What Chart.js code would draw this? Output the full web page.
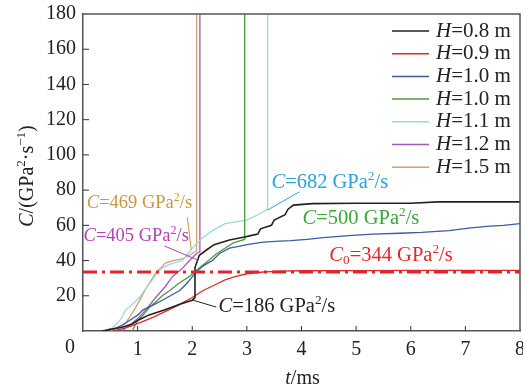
<!DOCTYPE html>
<html>
<head>
<meta charset="utf-8">
<script src="https://cdn.jsdelivr.net/npm/chart.js@4"></script>
<style>
  html, body { margin: 0; padding: 0; background: #fff; }
  #wrap { width: 523px; height: 390px; }
</style>
</head>
<body>
<div id="wrap"><canvas id="c"></canvas></div>
<script>
"use strict";
// H = 0.8 m
const t08 = [0.35, 0.5, 0.7, 0.9, 1.0, 1.2, 1.5, 1.8, 2.0, 2.05, 2.05, 2.13, 2.26, 2.4, 2.68, 2.96, 3.05, 3.2, 3.25, 3.45, 3.5, 3.7, 3.75, 3.85, 4.2, 5.0, 6.0, 6.5, 7.0, 8.0];
const c08 = [0, 1, 2, 4, 6, 9, 12, 15.5, 17.5, 19, 36, 43, 46, 49, 51.7, 53.4, 54, 55, 58, 60, 63, 66, 69, 71.5, 72.3, 72.5, 72.5, 73.3, 73.3, 73.3];
// H = 0.9 m
const t09 = [0.55, 0.7, 0.9, 1.1, 1.3, 1.5, 1.7, 2.0, 2.2, 2.4, 2.6, 2.8, 3.0, 3.3, 3.6, 4.0, 5.0, 6.0, 7.0, 8.0];
const c09 = [0, 1, 3, 5.5, 8, 11, 14, 19, 23, 26, 29, 31, 32.5, 33.5, 34, 34.2, 34.3, 34.4, 34.4, 34.4];
// H = 1.0 m (blue)
const t10a = [0.4, 0.55, 0.7, 0.85, 1.0, 1.1, 1.3, 1.46, 1.6, 1.77, 1.9, 2.06, 2.2, 2.37, 2.5, 2.68, 2.85, 3.0, 3.3, 3.6, 3.8, 4.1, 4.4, 4.8, 5.3, 5.8, 6.2, 6.7, 7.1, 7.45, 7.7, 8.0];
const c10a = [0, 1, 3, 6, 9, 12, 15, 17.6, 20, 23, 27, 33, 37, 40, 44, 47, 48, 49, 50.5, 51, 51.3, 52, 53, 54, 55, 55.5, 56, 57, 58.5, 59.6, 60, 61];
// H = 1.0 m (green)
const t10b = [0.9, 0.95, 1.0, 1.1, 1.22, 1.35, 1.45, 1.59, 1.75, 1.95, 2.1, 2.3, 2.45, 2.6, 2.75, 2.9, 2.96, 2.96];
const c10b = [0, 3, 6, 9, 13.6, 17, 20, 23, 27, 31, 35, 40, 44, 47, 50, 51.5, 52, 185];
// H = 1.1 m
const t11 = [0.4, 0.55, 0.7, 0.78, 0.9, 1.03, 1.15, 1.27, 1.36, 1.46, 1.6, 1.82, 2.0, 2.19, 2.37, 2.6, 2.8, 3.0, 3.2, 3.35, 3.38, 3.38];
const c11 = [0, 2, 7, 12, 15, 19, 24, 29, 33, 36, 38, 40, 47, 53, 57, 61, 62, 63, 66, 68.7, 69, 185];
// H = 1.2 m
const t12 = [0.7, 0.85, 1.03, 1.15, 1.33, 1.5, 1.64, 1.8, 1.95, 2.08, 2.14, 2.14];
const c12 = [0, 3, 8, 12, 19, 25, 31, 35, 40, 44, 45, 185];
// H = 1.5 m
const t15 = [0.5, 0.65, 0.78, 0.9, 1.03, 1.15, 1.33, 1.51, 1.65, 1.82, 1.95, 2.05, 2.08, 2.08];
const c15 = [0, 2, 4.5, 10, 17, 24, 33, 38.6, 40, 41, 43, 45, 45.5, 185];
// threshold C0
const tC0 = [0, 8];
const cC0 = [33.5, 33.5];

const seriesLabels = ["0.8", "0.9", "1.0", "1.0", "1.1", "1.2", "1.5"];
const seriesColors = ["#222222", "#e8262a", "#3b5ba5", "#4c9a3c", "#9ad9dc", "#a15bb8", "#d4a070"];

function pts(t, c) {
  return t.map((v, i) => ({x: v, y: c[i]}));
}

const FONT = "'Liberation Serif', 'DejaVu Serif', serif";

// draw text made of parts: {t, i (italic), sup, sub}
function richWidth(ctx, parts, size) {
  let w = 0;
  parts.forEach(p => {
    const s = (p.sup || p.sub) ? size * 0.65 : size;
    ctx.font = (p.i ? "italic " : "") + s + "px " + FONT;
    w += ctx.measureText(p.t).width;
  });
  return w;
}
function drawRich(ctx, parts, x, y, size, color) {
  ctx.save();
  ctx.fillStyle = color;
  ctx.textBaseline = "middle";
  ctx.textAlign = "left";
  let cx = x;
  parts.forEach(p => {
    const s = (p.sup || p.sub) ? size * 0.65 : size;
    ctx.font = (p.i ? "italic " : "") + s + "px " + FONT;
    let dy = 0;
    if (p.sup) dy = -size * 0.3;
    if (p.sub) dy = size * 0.25;
    ctx.fillText(p.t, cx, y + dy);
    cx += ctx.measureText(p.t).width;
  });
  ctx.restore();
}
function cLabel(v) {
  return [{t: "C", i: true}, {t: "=" + v + " GPa"}, {t: "2", sup: true}, {t: "/s"}];
}

// annotation texts: left edge and middle, in data units
const notes = [
  {parts: cLabel(469), x: 0.07, y: 72.5, size: 18.5, color: "#c9973f"},
  {parts: cLabel(405), x: 0.01, y: 53.8, size: 18.5, color: "#b540b5"},
  {parts: cLabel(682), x: 3.45, y: 84, size: 20.5, color: "#29a3dc"},
  {parts: cLabel(500), x: 4.02, y: 64, size: 20.5, color: "#3aa63a"},
  {parts: [{t: "C", i: true}, {t: "0", sub: true}, {t: "=344 GPa"}, {t: "2", sup: true}, {t: "/s"}], x: 4.51, y: 43, size: 20.5, color: "#e8262a"},
  {parts: cLabel(186), x: 2.48, y: 13.6, size: 20.5, color: "#222222"}
];
// leader lines, data units
const leaders = [
  {from: [1.91, 64.6], to: [1.98, 46.4], color: "#c9973f"},
  {from: [1.49, 48.3], to: [2.1, 40.3], color: "#b540b5"},
  {from: [3.96, 79], to: [3.38, 68.7], color: "#29a3dc"},
  {from: [2.44, 13.6], to: [2.0, 17.6], color: "#222222"}
];

const decor = {
  id: "decor",
  afterDraw(chart) {
    const ctx = chart.ctx;
    const a = chart.chartArea;
    const xs = chart.scales.x, ys = chart.scales.y;
    ctx.save();
    // frame top/right
    ctx.strokeStyle = "#555";
    ctx.lineWidth = 1.5;
    ctx.beginPath();
    ctx.moveTo(a.left, a.top);
    ctx.lineTo(a.right, a.top);
    ctx.lineTo(a.right, a.bottom);
    ctx.stroke();
    // inward ticks
    ctx.lineWidth = 1;
    ctx.strokeStyle = "#333";
    ctx.beginPath();
    for (let v = 1; v < 8; v++) {
      const px = xs.getPixelForValue(v);
      ctx.moveTo(px, a.bottom);
      ctx.lineTo(px, a.bottom - 5);
    }
    for (let v = 20; v < 180; v += 20) {
      const py = ys.getPixelForValue(v);
      ctx.moveTo(a.left, py);
      ctx.lineTo(a.left + 6, py);
    }
    ctx.stroke();
    // shared zero
    ctx.fillStyle = "#222";
    ctx.font = "20px " + FONT;
    ctx.textAlign = "center";
    ctx.textBaseline = "middle";
    ctx.fillText("0", a.left - 13, a.bottom + 17);
    // x title
    const xt = [{t: "t", i: true}, {t: "/ms"}];
    drawRich(ctx, xt, (a.left + a.right) / 2 - richWidth(ctx, xt, 20) / 2 + 1, a.bottom + 48, 20, "#222");
    // y title rotated
    const yt = [{t: "C", i: true}, {t: "/(GPa"}, {t: "2", sup: true}, {t: "·s"}, {t: "−1", sup: true}, {t: ")"}];
    ctx.save();
    ctx.translate(28, 176);
    ctx.rotate(-Math.PI / 2);
    drawRich(ctx, yt, -richWidth(ctx, yt, 20) / 2, 0, 20, "#222");
    ctx.restore();
    // legend
    chart.data.datasets.forEach((ds, i) => {
      if (i >= seriesLabels.length) return;
      const y = 31 + i * 22.7;
      ctx.strokeStyle = ds.borderColor;
      ctx.lineWidth = 1.5;
      ctx.beginPath();
      ctx.moveTo(392, y);
      ctx.lineTo(429, y);
      ctx.stroke();
      drawRich(ctx, [{t: "H", i: true}, {t: "=" + seriesLabels[i] + " m"}], 436, y, 21, "#222");
    });
    // leaders
    leaders.forEach(l => {
      ctx.strokeStyle = l.color;
      ctx.lineWidth = 1;
      ctx.beginPath();
      ctx.moveTo(xs.getPixelForValue(l.from[0]), ys.getPixelForValue(l.from[1]));
      ctx.lineTo(xs.getPixelForValue(l.to[0]), ys.getPixelForValue(l.to[1]));
      ctx.stroke();
    });
    // annotation texts
    notes.forEach(n => {
      drawRich(ctx, n.parts, xs.getPixelForValue(n.x), ys.getPixelForValue(n.y), n.size, n.color);
    });
    ctx.restore();
  }
};

const seriesT = [t08, t09, t10a, t10b, t11, t12, t15];
const seriesC = [c08, c09, c10a, c10b, c11, c12, c15];
const datasets = seriesT.map((t, i) => ({
  label: "H=" + seriesLabels[i] + " m",
  data: pts(t, seriesC[i]),
  borderColor: seriesColors[i],
  borderWidth: i === 0 ? 1.6 : 1.3,
  pointRadius: 0,
  tension: 0,
  order: i === 0 ? 1 : 2
}));
datasets.push({
  label: "C0",
  data: pts(tC0, cC0),
  borderColor: "#e0262a",
  borderWidth: 3,
  borderDash: [14, 5, 3, 5],
  pointRadius: 0,
  order: 0
});

new Chart(document.getElementById("c"), {
  type: "line",
  data: {datasets: datasets},
  plugins: [decor],
  options: {
    responsive: true,
    maintainAspectRatio: false,
    animation: false,
    layout: {padding: {top: 14, right: 3, left: 0, bottom: 0}},
    plugins: {
      legend: {display: false},
      tooltip: {enabled: false}
    },
    scales: {
      x: {
        type: "linear",
        min: 0,
        max: 8,
        grid: {display: false, drawTicks: false},
        border: {display: true, color: "#555", width: 1.5},
        ticks: {
          stepSize: 1,
          padding: 7,
          color: "#222",
          font: {family: FONT, size: 20},
          callback: v => (v === 0 ? "" : v)
        },
        afterFit(s) {
          s.height = 59;
          s.paddingLeft = 0;
          s.paddingRight = 0;
        }
      },
      y: {
        min: 0,
        max: 180,
        grid: {display: false, drawTicks: false},
        border: {display: true, color: "#555", width: 1.5},
        ticks: {
          stepSize: 20,
          padding: 7,
          color: "#222",
          font: {family: FONT, size: 20},
          callback: v => (v === 0 ? "" : v)
        },
        afterFit(s) {
          s.width = 83;
          s.paddingTop = 0;
          s.paddingBottom = 0;
        }
      }
    }
  }
});
</script>
</body>
</html>
